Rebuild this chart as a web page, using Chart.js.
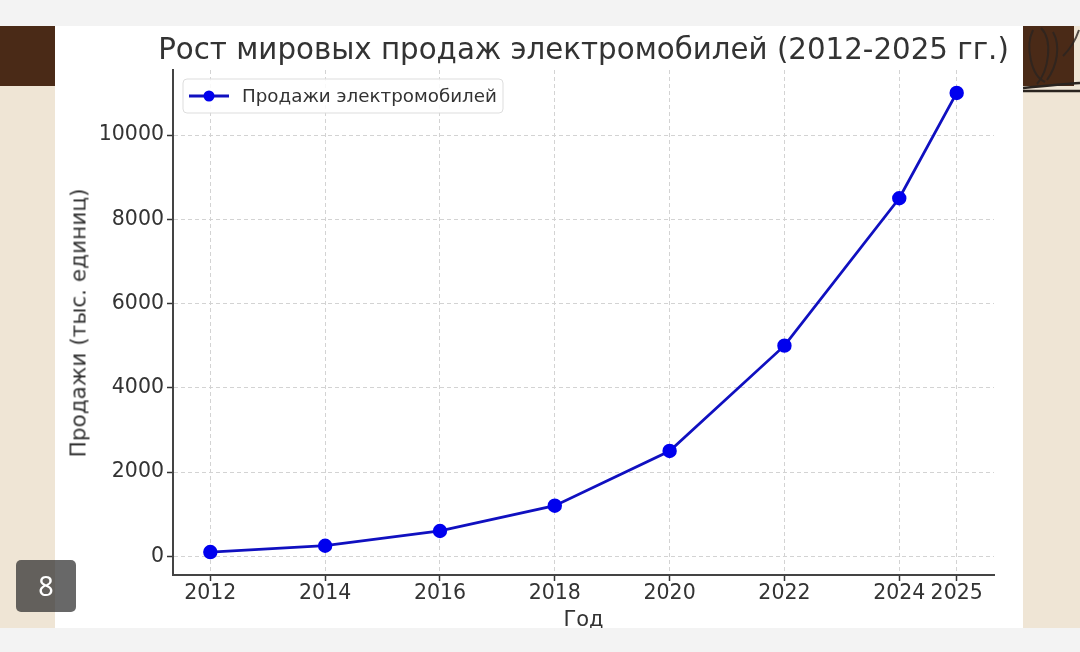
<!DOCTYPE html>
<html>
<head>
<meta charset="utf-8">
<script src="https://cdn.jsdelivr.net/npm/chart.js@4"></script>
<style>
  html, body { margin: 0; padding: 0; }
  body { width: 1080px; height: 652px; position: relative; overflow: hidden; background: #efe5d5; font-family: "DejaVu Sans", sans-serif; }
  .strip { position: absolute; left: 0; width: 1080px; background: #f3f3f3; z-index: 5; }
  .band { position: absolute; background: #4a2a17; }
  #panel { position: absolute; left: 55px; top: 26px; width: 968px; height: 602px; background: #fff; }
  #chartWrap { position: absolute; left: 55px; top: 26px; width: 968px; height: 602px; }
  #title { position: absolute; left: 83px; width: 1001px; top: 32px; text-align: center; font-size: 29.3px; color: #333; white-space: nowrap; }
  #xlabel { position: absolute; left: 173px; width: 821px; top: 607px; text-align: center; font-size: 21px; color: #333; }
  #ylabel { position: absolute; left: 78px; top: 323px; transform: translate(-50%, -50%) rotate(-90deg); font-size: 21.6px; color: #333; white-space: nowrap; }
  #badge { position: absolute; left: 16px; top: 560px; width: 60px; height: 52px; border-radius: 5px; background: rgba(40,40,40,0.7); color: #fff; font-family: "Noto Sans", sans-serif; font-size: 27px; line-height: 52px; text-align: center; z-index: 6; }
</style>
</head>
<body>
<div class="strip" style="top:0;height:26px"></div>
<div class="band" style="left:0;top:26px;width:55px;height:60px"></div>
<div class="band" style="left:1023px;top:26px;width:51px;height:60px"></div>
<svg style="position:absolute;left:1023px;top:26px" width="57" height="70">
  <path d="M10 4 C 2 20, 8 50, 22 56 M18 2 C 30 14, 26 44, 14 58 M30 6 C 38 20, 34 40, 24 54 M40 30 C 50 20, 54 10, 56 4" stroke="#2a2420" stroke-width="2" fill="none" opacity="0.8"/>
  <path d="M0 62 C 20 60, 40 58, 57 57 M0 65 L57 65" stroke="#2a2420" stroke-width="2.5" fill="none"/>
</svg>
<div id="panel"></div>
<div id="chartWrap"><canvas id="chart"></canvas></div>
<div id="title">Рост мировых продаж электромобилей (2012-2025 гг.)</div>
<div id="ylabel">Продажи (тыс. единиц)</div>
<div id="xlabel">Год</div>
<div class="strip" style="top:628px;height:24px"></div>
<div id="badge">8</div>

<script>
const years = [2012, 2014, 2016, 2018, 2020, 2022, 2024, 2025];
const sales = [100, 250, 600, 1200, 2500, 5000, 8500, 11000];
const yTicks = [0, 2000, 4000, 6000, 8000, 10000];
const seriesLabel = 'Продажи электромобилей';

const LINE_COLOR = '#1010c0';
const MARKER_COLOR = '#0000ee';
const TEXT_COLOR = '#333333';

// matplotlib-like 5% margins
const xMin = years[0] - (years[years.length - 1] - years[0]) * 0.05;
const xMax = years[years.length - 1] + (years[years.length - 1] - years[0]) * 0.05;
const yLo = Math.min(...sales), yHi = Math.max(...sales);
const yMin = yLo - (yHi - yLo) * 0.05;
const yMax = yHi + (yHi - yLo) * 0.05;

// legend drawn inside the plot area, like the original
const insideLegend = {
  id: 'insideLegend',
  afterDraw(chart) {
    const { ctx, chartArea } = chart;
    const x = chartArea.left + 10, y = chartArea.top + 9, w = 320, h = 34;
    ctx.save();
    ctx.beginPath();
    ctx.roundRect(x, y, w, h, 4);
    ctx.fillStyle = 'rgba(255,255,255,0.85)';
    ctx.fill();
    ctx.strokeStyle = '#dddddd';
    ctx.lineWidth = 1;
    ctx.stroke();
    const cy = y + h / 2;
    ctx.beginPath();
    ctx.moveTo(x + 6, cy);
    ctx.lineTo(x + 46, cy);
    ctx.strokeStyle = LINE_COLOR;
    ctx.lineWidth = 2.8;
    ctx.stroke();
    ctx.beginPath();
    ctx.arc(x + 26, cy, 5.5, 0, Math.PI * 2);
    ctx.fillStyle = MARKER_COLOR;
    ctx.fill();
    ctx.fillStyle = TEXT_COLOR;
    ctx.font = '18.3px "DejaVu Sans"';
    ctx.textBaseline = 'middle';
    ctx.fillText(seriesLabel, x + 59, cy + 1);
    ctx.restore();
  }
};

new Chart(document.getElementById('chart'), {
  type: 'line',
  data: {
    datasets: [{
      label: seriesLabel,
      data: years.map((yr, i) => ({ x: yr, y: sales[i] })),
      borderColor: LINE_COLOR,
      backgroundColor: MARKER_COLOR,
      pointBackgroundColor: MARKER_COLOR,
      pointBorderColor: MARKER_COLOR,
      pointRadius: 5.8,
      borderWidth: 2.8,
      tension: 0
    }]
  },
  options: {
    responsive: true,
    maintainAspectRatio: false,
    animation: false,
    layout: { padding: { top: 44, right: 29, left: 0, bottom: 0 } },
    plugins: { legend: { display: false }, title: { display: false }, tooltip: { enabled: false } },
    scales: {
      x: {
        type: 'linear',
        min: xMin,
        max: xMax,
        afterBuildTicks: (scale) => { scale.ticks = years.map(v => ({ value: v })); },
        afterFit: (scale) => { scale.height = 53; },
        ticks: { color: TEXT_COLOR, font: { family: 'DejaVu Sans', size: 20.5 }, padding: 0, maxRotation: 0, autoSkip: false, callback: v => String(v) },
        grid: { color: '#d3d3d3', lineWidth: 1, tickLength: 6, tickColor: '#333', tickWidth: 1.5 },
        border: { display: true, color: '#444', width: 2, dash: [4, 3] }
      },
      y: {
        min: yMin,
        max: yMax,
        afterBuildTicks: (scale) => { scale.ticks = yTicks.map(v => ({ value: v })); },
        afterFit: (scale) => { scale.width = 118; },
        ticks: { color: TEXT_COLOR, font: { family: 'DejaVu Sans', size: 20.5 }, padding: 3, callback: v => String(v) },
        grid: { color: '#d3d3d3', lineWidth: 1, tickLength: 6, tickColor: '#333', tickWidth: 1.5 },
        border: { display: true, color: '#444', width: 2, dash: [4, 3] }
      }
    }
  },
  plugins: [insideLegend]
});
</script>
</body>
</html>
